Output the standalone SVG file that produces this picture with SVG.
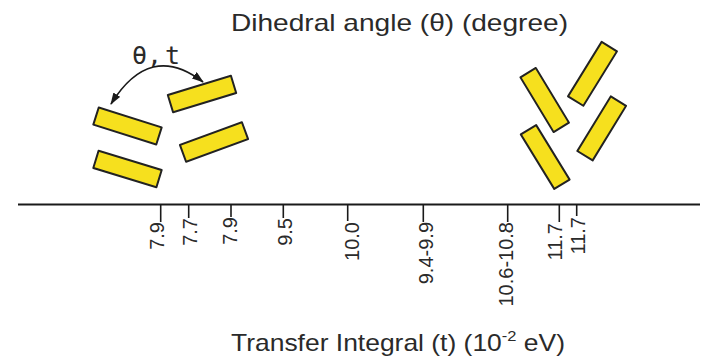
<svg xmlns="http://www.w3.org/2000/svg" width="704" height="358" viewBox="0 0 704 358">
  <style>
    .mol { fill: #F6E01E; stroke: #222; stroke-width: 2; stroke-linejoin: round; }
    .title { font-family: "Liberation Sans", Arial, sans-serif; font-size: 24px; fill: #2a2a2a; }
    .tick { stroke: #1a1a1a; stroke-width: 1.6; }
    .tl { font-family: "Liberation Sans", Arial, sans-serif; font-size: 20px; fill: #2a2a2a; text-anchor: end; }
    .sym { font-family: "DejaVu Sans Mono", "Liberation Mono", monospace; font-size: 25px; fill: #2a2a2a; }
    .arc { fill: none; stroke: #1a1a1a; stroke-width: 1.6; }
  </style>
  <defs>
    <marker id="ah" viewBox="0 0 12 8" refX="11" refY="4" markerWidth="12" markerHeight="8" markerUnits="userSpaceOnUse" orient="auto-start-reverse">
      <path d="M0,0 L12,4 L0,8 z" fill="#1a1a1a"/>
    </marker>
    <rect id="r66" x="-33" y="-9" width="66" height="18"/>
    <rect id="r64" x="-32" y="-9" width="64" height="18"/>
  </defs>
  <rect width="704" height="358" fill="#fff"/>

  <g id="title-top">
    <text class="title" x="231" y="30.5" textLength="337" lengthAdjust="spacingAndGlyphs">Dihedral angle (θ) (degree)</text>
  </g>

  <g id="label-theta-t">
    <text class="sym" y="64"><tspan x="132">θ,</tspan><tspan x="165">t</tspan></text>
  </g>

  <g id="mol-A"><use href="#r66" class="mol" transform="translate(127.5,126) rotate(17.5)"/></g>
  <g id="mol-B"><use href="#r66" class="mol" transform="translate(127.5,169) rotate(17)"/></g>
  <g id="mol-C"><use href="#r66" class="mol" transform="translate(202,94) rotate(-17)"/></g>
  <g id="mol-D"><use href="#r66" class="mol" transform="translate(214,142) rotate(-20)"/></g>

  <g id="mol-E"><use href="#r64" class="mol" transform="translate(544.7,100) rotate(58.8)"/></g>
  <g id="mol-F"><use href="#r64" class="mol" transform="translate(592.5,73.8) rotate(-58.3)"/></g>
  <g id="mol-G"><use href="#r64" class="mol" transform="translate(545.2,157) rotate(58.5)"/></g>
  <g id="mol-H"><use href="#r64" class="mol" transform="translate(601.7,128.4) rotate(-58.5)"/></g>

  <g id="connectors">
    <path class="arc" d="M111,104 Q150,41 203,82" marker-start="url(#ah)" marker-end="url(#ah)"/>
  </g>

  <g id="axis">
    <line x1="18" y1="204.5" x2="700" y2="204.5" stroke="#1a1a1a" stroke-width="2"/>
    <line class="tick" x1="160.7" y1="204.5" x2="160.7" y2="222"/>
    <line class="tick" x1="188.7" y1="204.5" x2="188.7" y2="218"/>
    <line class="tick" x1="231" y1="204.5" x2="231" y2="217"/>
    <line class="tick" x1="283.3" y1="204.5" x2="283.3" y2="218"/>
    <line class="tick" x1="347.7" y1="204.5" x2="347.7" y2="221"/>
    <line class="tick" x1="423.3" y1="204.5" x2="423.3" y2="222"/>
    <line class="tick" x1="507.7" y1="204.5" x2="507.7" y2="222"/>
    <line class="tick" x1="559.3" y1="204.5" x2="559.3" y2="222"/>
    <line class="tick" x1="576.7" y1="204.5" x2="576.7" y2="216"/>
  </g>

  <g id="tick-labels">
    <text class="tl" transform="translate(164,222) rotate(-90)">7.9</text>
    <text class="tl" transform="translate(196.5,218) rotate(-90)">7.7</text>
    <text class="tl" transform="translate(237,217) rotate(-90)">7.9</text>
    <text class="tl" transform="translate(291.5,218) rotate(-90)">9.5</text>
    <text class="tl" transform="translate(359,222) rotate(-90)">10.0</text>
    <text class="tl" transform="translate(433,222) rotate(-90)">9.4-9.9</text>
    <text class="tl" transform="translate(513,222) rotate(-90)">10.6-10.8</text>
    <text class="tl" transform="translate(561.5,223) rotate(-90)">11.7</text>
    <text class="tl" transform="translate(585,217) rotate(-90)">11.7</text>
  </g>

  <g id="title-bottom">
    <text class="title" x="231" y="351" textLength="334" lengthAdjust="spacingAndGlyphs">Transfer Integral (t) (10<tspan dy="-10" style="font-size:15px">-2</tspan><tspan dy="10"> eV)</tspan></text>
  </g>
</svg>
